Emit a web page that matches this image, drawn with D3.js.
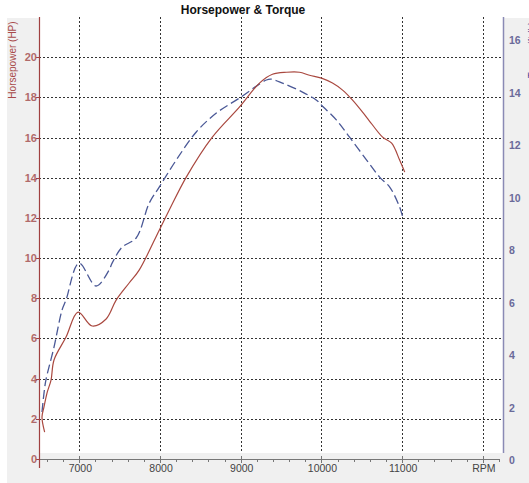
<!DOCTYPE html>
<html>
<head>
<meta charset="utf-8">
<script src="https://cdn.jsdelivr.net/npm/d3@7"></script>
<style>
  body { margin: 0; background: #fff; font-family: Arial, "Liberation Sans", sans-serif; }
</style>
</head>
<body>
<div id="chart"></div>
<script>
// Dyno run: rpm / horsepower / torque
var hpRpm = [6570, 6537, 6562, 6599, 6649, 6686, 6835, 6984, 7158, 7332, 7456, 7617, 7741, 7990, 8114, 8325, 8648, 8983, 9232, 9393, 9567, 9728, 9852, 10001, 10137, 10262, 10386, 10560, 10758, 10870, 10969, 11032];
var hpVal = [1.34, 2.09, 2.59, 3.28, 3.93, 4.93, 6.07, 7.31, 6.62, 6.97, 7.91, 8.76, 9.40, 11.39, 12.39, 14.03, 16.02, 17.51, 18.71, 19.15, 19.25, 19.25, 19.10, 18.96, 18.71, 18.36, 17.86, 17.01, 16.02, 15.72, 14.88, 14.28];

var tqRpm = [6537, 6562, 6586, 6686, 6785, 6835, 6996, 7207, 7369, 7406, 7530, 7704, 7866, 7990, 8201, 8449, 8698, 8983, 9318, 9380, 9517, 9765, 9939, 10001, 10187, 10349, 10560, 10721, 10846, 10969, 11007];
var tqVal = [1.83, 2.55, 3.05, 4.30, 5.71, 6.10, 7.50, 6.63, 7.24, 7.50, 8.11, 8.46, 9.79, 10.40, 11.43, 12.50, 13.22, 13.79, 14.48, 14.51, 14.36, 14.02, 13.71, 13.52, 12.95, 12.30, 11.43, 10.78, 10.40, 9.64, 9.26];

var rpmTicks = [7000, 8000, 9000, 10000, 11000, 12000];
var rpmLabels = ["7000", "8000", "9000", "10000", "11000", "RPM"];
var hpTicks = [0, 2, 4, 6, 8, 10, 12, 14, 16, 18, 20];
var tqTicks = [0, 2, 4, 6, 8, 10, 12, 14, 16];

var W = 529, H = 483;
var pLeft = 39, pRight = 503, pTop = 17, pBottom = 453, axisY = 459;

var svg = d3.select('#chart').append('svg')
	.attr('width', W)
	.attr('height', H)

var x = d3.scaleLinear().domain([6500, 12250]).range([pLeft, pRight])
var yL = d3.scaleLinear().domain([0, 22]).range([axisY, pTop])
var yR = d3.scaleLinear().domain([0, 16.88]).range([460, pTop])

// panel + plot background
svg.append('rect').attr('x', 7).attr('y', 18).attr('width', W - 7).attr('height', H - 18).attr('fill', '#f0f0f0')
svg.append('rect').attr('x', pLeft).attr('y', pTop).attr('width', pRight - pLeft).attr('height', pBottom - pTop).attr('fill', '#fff')

// grid
var grid = svg.append('g')
	.attr('stroke', '#333')
	.attr('stroke-width', 1)
	.attr('stroke-dasharray', '2,2')
grid.selectAll('line.h')
	.data(hpTicks.filter(function (d) { return d > 0 }))
	.enter().append('line')
	.attr('x1', pLeft).attr('x2', pRight)
	.attr('y1', function (d) { return Math.round(yL(d)) + 0.5 })
	.attr('y2', function (d) { return Math.round(yL(d)) + 0.5 })
grid.selectAll('line.v')
	.data(rpmTicks)
	.enter().append('line')
	.attr('y1', pTop).attr('y2', pBottom)
	.attr('x1', function (d) { return Math.round(x(d)) + 0.5 })
	.attr('x2', function (d) { return Math.round(x(d)) + 0.5 })

// x axis
var xa = svg.append('g').attr('stroke', '#777')
xa.append('line').attr('x1', pLeft).attr('x2', 500).attr('y1', axisY + 0.5).attr('y2', axisY + 0.5)
xa.selectAll('line.minor')
	.data(d3.range(6600, 12300, 200).filter(function (d) { return d % 1000 != 0 }))
	.enter().append('line')
	.attr('x1', function (d) { return Math.round(x(d)) + 0.5 })
	.attr('x2', function (d) { return Math.round(x(d)) + 0.5 })
	.attr('y1', axisY).attr('y2', axisY + 3)
xa.selectAll('line.major')
	.data(rpmTicks)
	.enter().append('line')
	.attr('x1', function (d) { return Math.round(x(d)) + 0.5 })
	.attr('x2', function (d) { return Math.round(x(d)) + 0.5 })
	.attr('y1', axisY - 3).attr('y2', axisY + 4)
svg.append('g').selectAll('text')
	.data(rpmTicks)
	.enter().append('text')
	.attr('x', function (d) { return x(d) + 1 })
	.attr('y', 472)
	.attr('text-anchor', 'middle')
	.attr('font-size', 10.5)
	.attr('fill', '#444')
	.text(function (d, i) { return rpmLabels[i] })

// left axis (HP)
svg.append('line').attr('x1', pLeft + 0.5).attr('x2', pLeft + 0.5).attr('y1', pTop).attr('y2', 468)
	.attr('stroke', '#a04040').attr('stroke-width', 1.2)
svg.append('g').selectAll('line')
	.data(hpTicks)
	.enter().append('line')
	.attr('x1', pLeft - 3).attr('x2', pLeft)
	.attr('y1', function (d) { return Math.round(yL(d)) + 0.5 })
	.attr('y2', function (d) { return Math.round(yL(d)) + 0.5 })
	.attr('stroke', '#a04040')
svg.append('g').selectAll('text')
	.data(hpTicks)
	.enter().append('text')
	.attr('x', 37)
	.attr('y', function (d) { return yL(d) + 4 })
	.attr('text-anchor', 'end')
	.attr('font-size', 11)
	.attr('font-weight', 'bold')
	.attr('fill', '#b06a6a')
	.text(function (d) { return d })
svg.append('text')
	.attr('transform', 'translate(16,60) rotate(-90)')
	.attr('text-anchor', 'middle')
	.attr('font-size', 10)
	.attr('fill', '#a84a4a')
	.text('Horsepower (HP)')

// right axis (torque)
svg.append('line').attr('x1', pRight + 0.5).attr('x2', pRight + 0.5).attr('y1', pTop).attr('y2', pBottom)
	.attr('stroke', '#8a8ab5').attr('stroke-width', 1.5)
svg.append('g').selectAll('text')
	.data(tqTicks)
	.enter().append('text')
	.attr('x', 509)
	.attr('y', function (d) { return yR(d) + 4 })
	.attr('font-size', 10.5)
	.attr('font-weight', 'bold')
	.attr('fill', '#6a6a9a')
	.text(function (d) { return d })
svg.append('text')
	.attr('transform', 'translate(536,50) rotate(-90)')
	.attr('text-anchor', 'middle')
	.attr('font-size', 10)
	.attr('fill', '#4a4a9a')
	.text('Torque (ft-lb)')

// title
svg.append('text')
	.attr('x', 243)
	.attr('y', 14)
	.attr('text-anchor', 'middle')
	.attr('font-size', 12)
	.attr('font-weight', 'bold')
	.attr('fill', '#111')
	.text('Horsepower & Torque')

// curves
var hpLine = d3.line()
	.x(function (d, i) { return x(hpRpm[i]) })
	.y(function (d) { return yL(d) })
	.curve(d3.curveCatmullRom)
var tqLine = d3.line()
	.x(function (d, i) { return x(tqRpm[i]) })
	.y(function (d) { return yR(d) })
	.curve(d3.curveCatmullRom)

svg.append('path')
	.datum(tqVal)
	.attr('d', tqLine)
	.attr('fill', 'none')
	.attr('stroke', '#4a5896')
	.attr('stroke-width', 1.3)
	.attr('stroke-dasharray', '9,4')
svg.append('path')
	.datum(hpVal)
	.attr('d', hpLine)
	.attr('fill', 'none')
	.attr('stroke', '#a9483f')
	.attr('stroke-width', 1.2)
</script>
</body>
</html>
